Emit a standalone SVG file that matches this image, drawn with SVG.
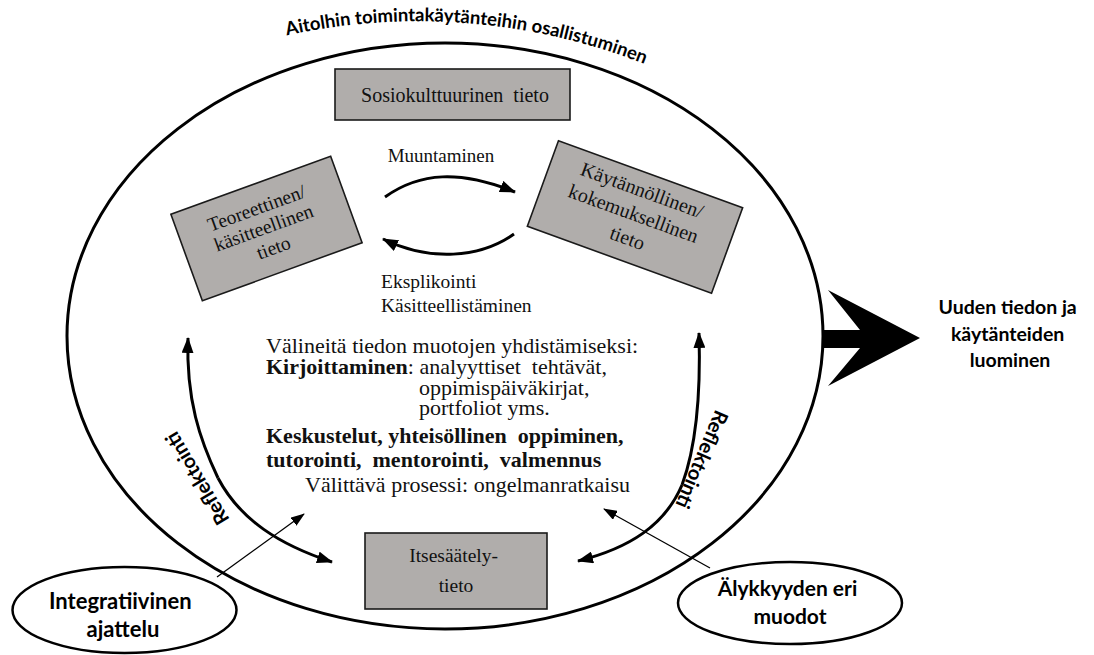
<svg xmlns="http://www.w3.org/2000/svg" width="1094" height="655" viewBox="0 0 1094 655">
  <style>
    .serif { font-family: "Liberation Serif", "Times New Roman", serif; fill: #111; }
    .pre { white-space: pre; }
    .sans { font-family: Lato, "Liberation Sans", sans-serif; font-weight: bold; fill: #000; }
    .box { fill: #b0adab; stroke: #1a1a1a; stroke-width: 1.6; }
    .thick { fill: none; stroke: #000; stroke-width: 3; }
    .thin { fill: none; stroke: #000; stroke-width: 1.3; }
    .oval { fill: #fff; stroke: #000; stroke-width: 2.5; }
  </style>
  <defs>
    <marker id="head" viewBox="0 0 16 12" refX="15" refY="6" markerWidth="16" markerHeight="12" markerUnits="userSpaceOnUse" orient="auto">
      <path d="M0,0 L16,6 L0,12 Z" fill="#000"/>
    </marker>
    <marker id="headSmall" viewBox="0 0 14 10" refX="13" refY="5" markerWidth="14" markerHeight="10" markerUnits="userSpaceOnUse" orient="auto">
      <path d="M0,0 L14,5 L0,10 Z" fill="#000"/>
    </marker>
    <path id="titleCurve" d="M 285 36 C 380 14, 520 10, 664 72"/>
  </defs>

  <rect width="1094" height="655" fill="#fff"/>

  <!-- outer participation ellipse and its curved caption -->
  <g id="context">
    <ellipse cx="445" cy="336" rx="378" ry="293" fill="none" stroke="#000" stroke-width="3"/>
    <text class="sans" font-size="18.5"><textPath href="#titleCurve" startOffset="2">Aitolhin toimintakäytänteihin osallistuminen</textPath></text>
  </g>

  <!-- outcome arrow -->
  <g id="outcome">
    <polygon points="822,330 860,330 828,290 920,338 828,386 860,348 822,348" fill="#000"/>
    <text class="sans" font-size="19.5" text-anchor="middle">
      <tspan x="1010" y="314">Uuden tiedon ja</tspan>
      <tspan x="1010" y="341">käytänteiden</tspan>
      <tspan x="1010" y="367">luominen</tspan>
    </text>
  </g>

  <g id="sosiokulttuurinen">
    <rect class="box" x="335" y="69" width="235" height="51"/>
    <text class="serif pre" font-size="20" x="455" y="102" text-anchor="middle">Sosiokulttuurinen  tieto</text>
  </g>

  <g id="teoreettinen" transform="translate(266.5 228.5) rotate(-20)">
    <rect class="box" x="-85" y="-46" width="170" height="92"/>
    <text class="serif" font-size="19.5" text-anchor="middle">
      <tspan x="0" y="-16">Teoreettinen/</tspan>
      <tspan x="0" y="5">käsitteellinen</tspan>
      <tspan x="0" y="27">tieto</tspan>
    </text>
  </g>

  <g id="kaytannollinen" transform="translate(635 217) rotate(20)">
    <rect class="box" x="-98" y="-45.5" width="196" height="91"/>
    <text class="serif" font-size="20" text-anchor="middle">
      <tspan x="0" y="-21">Käytännöllinen/</tspan>
      <tspan x="0" y="4">kokemuksellinen</tspan>
      <tspan x="0" y="29">tieto</tspan>
    </text>
  </g>

  <g id="itsesaately">
    <rect class="box" x="365" y="533" width="182" height="76"/>
    <text class="serif" font-size="19.5" text-anchor="middle">
      <tspan x="456" y="562">Itsesäätely-</tspan>
      <tspan x="456" y="592">tieto</tspan>
    </text>
  </g>

  <g id="valineet">
    <text class="serif" font-size="22" x="266" y="353">Välineitä tiedon muotojen yhdistämiseksi:</text>
    <text class="serif pre" font-size="22" x="266" y="374"><tspan font-weight="bold">Kirjoittaminen</tspan>: analyyttiset  tehtävät,</text>
    <text class="serif" font-size="22" x="419" y="395">oppimispäiväkirjat,</text>
    <text class="serif" font-size="22" x="419" y="415">portfoliot yms.</text>
    <text class="serif pre" font-size="22" x="266" y="443" font-weight="bold">Keskustelut, yhteisöllinen  oppiminen,</text>
    <text class="serif pre" font-size="22" x="266" y="467" font-weight="bold">tutorointi,  mentorointi,  valmennus</text>
    <text class="serif" font-size="22" x="305" y="492">Välittävä prosessi: ongelmanratkaisu</text>
  </g>

  <g id="integratiivinen">
    <ellipse class="oval" cx="124.5" cy="610" rx="112" ry="43"/>
    <text class="sans" font-size="22" text-anchor="middle">
      <tspan x="123" y="609">Integratiivinen</tspan>
      <tspan x="123" y="637">ajattelu</tspan>
    </text>
  </g>

  <g id="alykkyys">
    <ellipse class="oval" cx="790" cy="603" rx="112" ry="41"/>
    <text class="sans" font-size="21" text-anchor="middle">
      <tspan x="790" y="596">Älykkyyden eri</tspan>
      <tspan x="790" y="624">muodot</tspan>
    </text>
  </g>

  <!-- connectors -->
  <g id="connectors">
    <path class="thick" d="M 385 197 C 420 172, 460 170, 515 192" marker-end="url(#head)"/>
    <text class="serif" font-size="19" x="441" y="162" text-anchor="middle">Muuntaminen</text>
    <path class="thick" d="M 514 234 C 480 258, 430 262, 383 239" marker-end="url(#head)"/>
    <text class="serif" font-size="19.5" x="381" y="288">Eksplikointi</text>
    <text class="serif" font-size="19.5" x="381" y="312">Käsitteellistäminen</text>

    <path class="thick" d="M 218 478 C 200 440, 186 400, 188 338" marker-end="url(#head)"/>
    <path class="thick" d="M 218 478 C 240 520, 280 545, 332 562" marker-end="url(#head)"/>
    <text class="sans" font-size="20" text-anchor="middle" transform="translate(198 478) rotate(239)" dy="6">Reflektointi</text>

    <path class="thick" d="M 682 485 C 695 450, 701 400, 699 333" marker-end="url(#head)"/>
    <path class="thick" d="M 682 485 C 665 525, 630 548, 578 561" marker-end="url(#head)"/>
    <text class="sans" font-size="20" text-anchor="middle" transform="translate(701 459) rotate(113)" dy="6">Reflektointi</text>

    <path class="thin" d="M 217 577 L 304 514" marker-end="url(#headSmall)"/>
    <path class="thin" d="M 710 568 L 604 509" marker-end="url(#headSmall)"/>
  </g>
</svg>
